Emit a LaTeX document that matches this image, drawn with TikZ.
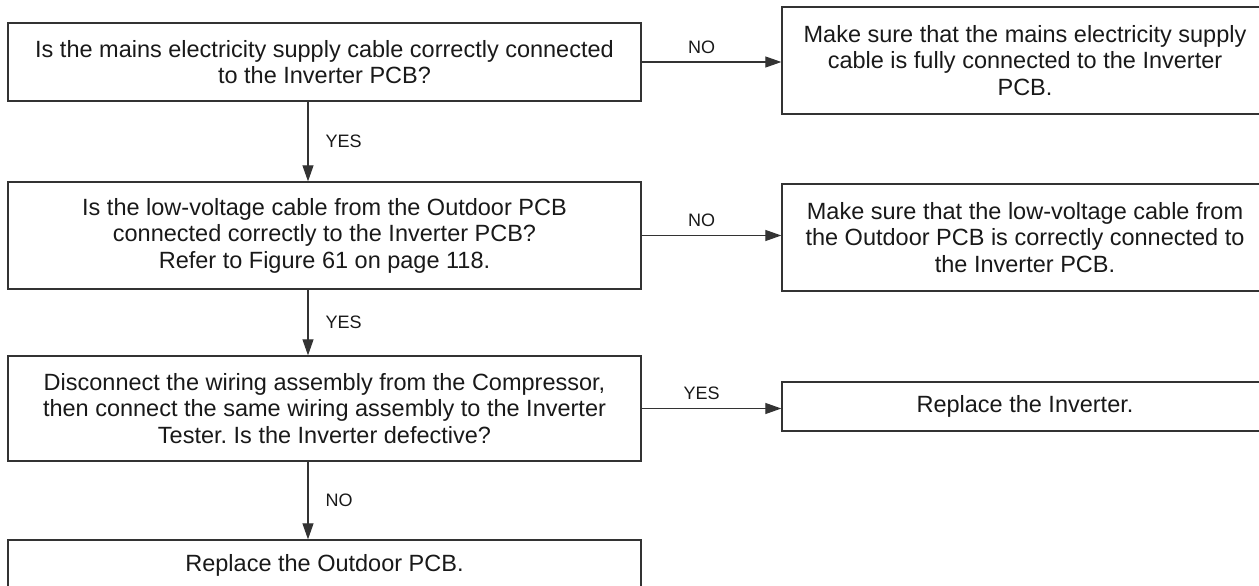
\documentclass[tikz,border=0pt]{standalone}
\usepackage{fontspec}
\setmainfont{Liberation Sans}
\usetikzlibrary{arrows.meta}
\frenchspacing

\begin{document}
\begin{tikzpicture}[
	x=1pt, y=-1pt,
	box/.style={ draw=black!80, line width=1.3pt, text=black!90, align=center, inner sep=0pt, font=\fontsize{23.5}{26.5}\selectfont },
	qbox/.style={ box, minimum width=633pt },
	abox/.style={ box, minimum width=486pt },
	flow/.style={ draw=black!80, line width=1.1pt, -{Triangle[length=16pt,width=11pt]} },
	tag/.style={ text=black!90, font=\fontsize{18}{20}\selectfont, inner sep=0pt },
]
\useasboundingbox (0,0) rectangle (1259,586);
\clip (0,0) rectangle (1259,586);

% questions down the left
\node at (324.5,62) (q1) [qbox,minimum height=78pt] {Is the mains electricity supply cable correctly connected\\to the Inverter PCB?};
\node at (324.5,235.5) (q2) [qbox,minimum height=107pt] {Is the low-voltage cable from the Outdoor PCB\\connected correctly to the Inverter PCB?\\Refer to Figure 61 on page 118.};
\node at (324.5,408.5) (q3) [qbox,minimum height=105pt] {Disconnect the wiring assembly from the Compressor,\\then connect the same wiring assembly to the Inverter\\Tester. Is the Inverter defective?};
\node at (324.5,565.5) (q4) [qbox,minimum height=51pt] {Replace the Outdoor PCB.};

% actions on the right
\node at (1025,60.5) (a1) [abox,minimum height=107pt] {Make sure that the mains electricity supply\\cable is fully connected to the Inverter\\PCB.};
\node at (1025,237.5) (a2) [abox,minimum height=107pt] {Make sure that the low-voltage cable from\\the Outdoor PCB is correctly connected to\\the Inverter PCB.};
\node at (1025,406.5) (a3) [abox,minimum height=49pt] {Replace the Inverter.};

\coordinate (spine) at (308,0);

\draw[flow] (q1.south -| spine) -- node[tag,anchor=west,right=17pt] {YES} (q2.north -| spine);
\draw[flow] (q2.south -| spine) -- node[tag,anchor=west,right=17pt] {YES} (q3.north -| spine);
\draw[flow] (q3.south -| spine) -- node[tag,anchor=west,right=17pt] {NO} (q4.north -| spine);

\draw[flow] (q1.east) -- node[tag,pos=0.43,above=8pt] {NO} (q1.east -| a1.west);
\draw[flow] (q2.east) -- node[tag,pos=0.43,above=8pt] {NO} (q2.east -| a2.west);
\draw[flow] (q3.east) -- node[tag,pos=0.43,above=8pt] {YES} (q3.east -| a3.west);

\end{tikzpicture}
\end{document}
